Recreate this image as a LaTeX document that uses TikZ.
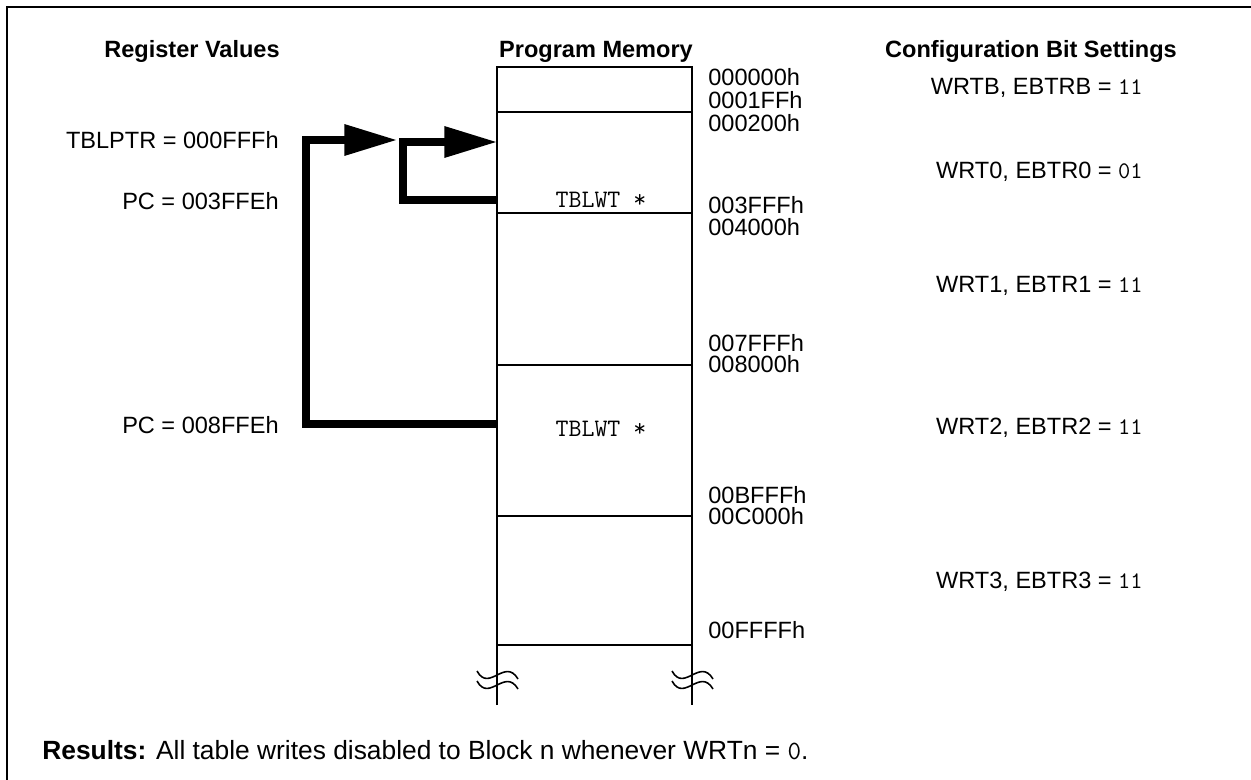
\documentclass[tikz,border=0pt]{standalone}
\usepackage{fontspec}
\setmainfont{Liberation Sans}
\setmonofont{Latin Modern Mono}
\usetikzlibrary{arrows.meta}
\newcommand{\mcode}[1]{{\fontsize{13.5pt}{15pt}\selectfont\ttfamily #1}}

\begin{document}
\begin{tikzpicture}[x=0.02cm,y=-0.02cm,>={Triangle[length=30pt,width=17pt]}]
\tikzstyle{lbl}=[inner sep=0pt,text height=9.6pt,text depth=0pt,font=\fontsize{13.4pt}{16pt}\selectfont]
\tikzstyle{hdr}=[lbl,font=\fontsize{13.4pt}{16pt}\selectfont\bfseries]
\tikzstyle{addr}=[lbl,anchor=west]
\tikzstyle{cfg}=[lbl,anchor=east]
\tikzstyle{reg}=[lbl,anchor=east]
\tikzstyle{instr}=[inner sep=0pt,font=\fontsize{14.3pt}{16pt}\selectfont\ttfamily]
\tikzstyle{mem}=[line width=1.1pt]
\tikzstyle{flow}=[line width=4pt]
\tikzstyle{brk}=[line width=0.9pt]
\useasboundingbox (0,0) rectangle (1251,780);
% outer frame, cut at the right and bottom
\begin{scope}
\clip (0,0) rectangle (1251,780);
\draw[line width=1.7pt] (7,7) rectangle (1290,820);
\end{scope}

% headings
\node[hdr] (regtitle) at (192,49) {Register Values};
\node[hdr] (memtitle) at (596,49) {Program Memory};
\node[hdr] (cfgtitle) at (1031,49) {Configuration Bit Settings};

% program memory column
\draw[mem] (497,705) -- (497,67) -- (692,67) -- (692,705);
\foreach \y in {112,213,365,516,645}
  \draw[mem] (497,\y) -- (692,\y);
\foreach \x in {497,692} {
  \draw[brk] (\x-20,671) .. controls (\x-8,693) and (\x+8,657) .. (\x+21,679);
  \draw[brk] (\x-20,681) .. controls (\x-8,703) and (\x+8,667) .. (\x+21,689);
}
\node[instr] (wr1) at (601,200) {TBLWT *};
\node[instr] (wr2) at (601,429) {TBLWT *};

% addresses
\node[addr] (a0) at (708,77) {000000h};
\node[addr] (a1) at (708,100) {0001FFh};
\node[addr] (a2) at (708,123) {000200h};
\node[addr] (a3) at (708,205) {003FFFh};
\node[addr] (a4) at (708,227) {004000h};
\node[addr] (a5) at (708,343) {007FFFh};
\node[addr] (a6) at (708,364) {008000h};
\node[addr] (a7) at (708,495) {00BFFFh};
\node[addr] (a8) at (708,516) {00C000h};
\node[addr] (a9) at (708,630) {00FFFFh};

% register values
\node[reg] (tblptr) at (279,140) {TBLPTR = 000FFFh};
\node[reg] (pca) at (279,201) {PC = 003FFEh};
\node[reg] (pcb) at (279,425) {PC = 008FFEh};

% configuration bits
\node[cfg] (cb) at (1143,86) {WRTB, EBTRB = \mcode{11}};
\node[cfg] (c0) at (1143,170) {WRT0, EBTR0 = \mcode{01}};
\node[cfg] (c1) at (1143,284) {WRT1, EBTR1 = \mcode{11}};
\node[cfg] (c2) at (1143,426) {WRT2, EBTR2 = \mcode{11}};
\node[cfg] (c3) at (1143,580) {WRT3, EBTR3 = \mcode{11}};

% table write paths
\coordinate (fromA) at (497,200);
\coordinate (toA) at (497,142);
\coordinate (fromB) at (497,424);
\coordinate (toB) at (397,140);
\draw[flow,->] (fromA) -- ++(-94,0) |- (toA);
\draw[flow,->] (fromB) -- ++(-191,0) |- (toB);

\node[lbl,anchor=west,font=\fontsize{15pt}{17pt}\selectfont,text height=10.7pt] (res) at (42,750) {\textbf{Results:} All table writes disabled to Block n whenever WRTn = {\fontsize{15pt}{17pt}\selectfont\ttfamily 0}.};
\end{tikzpicture}
\end{document}
